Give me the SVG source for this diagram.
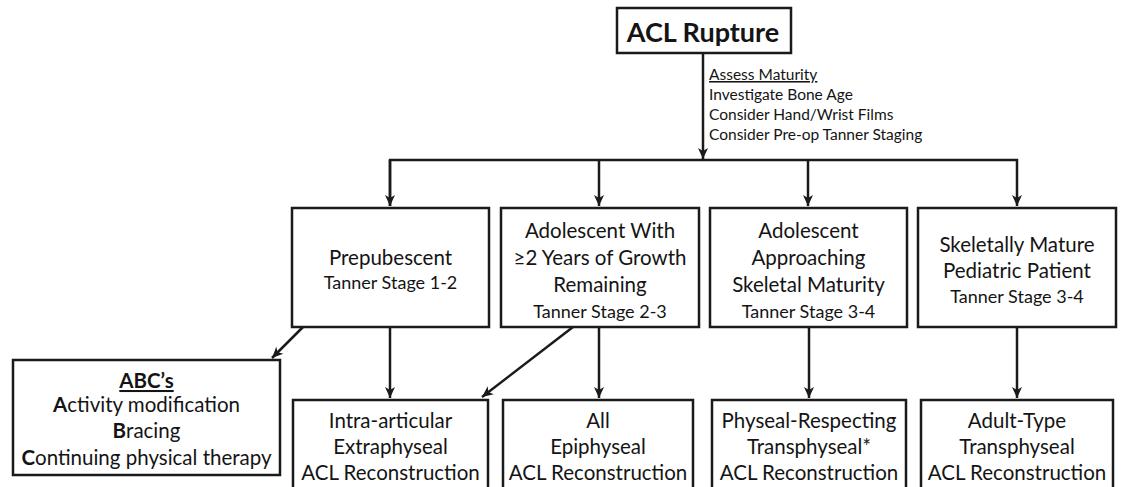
<svg xmlns="http://www.w3.org/2000/svg" width="1124" height="487" viewBox="0 0 1124 487">
<defs>
<style>
.box{fill:#fff;stroke:#1a1a1a;stroke-width:2.5}
.t{font-family:Lato,"Open Sans",sans-serif;fill:#141414;text-anchor:middle;font-size:20.5px}
.s{font-size:18px}
.n{font-family:Lato,"Open Sans",sans-serif;fill:#141414;font-size:15.5px}
.c{fill:none;stroke:#1a1a1a;stroke-width:2.5}
</style>
<marker id="ah" viewBox="0 0 12 12" refX="11" refY="6" markerWidth="12" markerHeight="12" markerUnits="userSpaceOnUse" orient="auto">
<path d="M0,1 L11,6 L0,11 L3,6 Z" fill="#1a1a1a"/>
</marker>
</defs>
<rect width="1124" height="487" fill="#fff"/>
<g id="connectors">
<line class="c" x1="703" y1="53" x2="703" y2="159" marker-end="url(#ah)"/>
<polyline class="c" points="390,206 390,160 1017,160 1017,206" marker-end="url(#ah)"/>
<line class="c" x1="390" y1="160" x2="390" y2="206" marker-end="url(#ah)"/>
<line class="c" x1="599" y1="160" x2="599" y2="206" marker-end="url(#ah)"/>
<line class="c" x1="808" y1="160" x2="808" y2="206" marker-end="url(#ah)"/>
<line class="c" x1="303" y1="327" x2="272" y2="358" marker-end="url(#ah)"/>
<line class="c" x1="390" y1="327" x2="390" y2="398" marker-end="url(#ah)"/>
<line class="c" x1="573" y1="327" x2="482" y2="397" marker-end="url(#ah)"/>
<line class="c" x1="599" y1="327" x2="599" y2="398" marker-end="url(#ah)"/>
<line class="c" x1="809" y1="327" x2="809" y2="398" marker-end="url(#ah)"/>
<line class="c" x1="1017" y1="327" x2="1017" y2="398" marker-end="url(#ah)"/>
</g>
<g id="acl-rupture">
<rect class="box" x="617" y="8" width="174" height="45"/>
<text class="t" x="703" y="42" style="font-size:27px;font-weight:bold">ACL Rupture</text>
</g>
<g id="assess-note">
<text class="n" x="709" y="80" text-decoration="underline">Assess Maturity</text>
<text class="n" x="709" y="100">Investigate Bone Age</text>
<text class="n" x="709" y="120">Consider Hand/Wrist Films</text>
<text class="n" x="709" y="140">Consider Pre-op Tanner Staging</text>
</g>
<g id="prepubescent">
<rect class="box" x="292" y="208" width="197" height="119"/>
<text class="t" x="390.5" y="265">Prepubescent</text>
<text class="t s" x="390.5" y="289">Tanner Stage 1-2</text>
</g>
<g id="adolescent-growth">
<rect class="box" x="501" y="208" width="198" height="119"/>
<text class="t" x="600" y="238">Adolescent With</text>
<text class="t" x="600" y="265">≥2 Years of Growth</text>
<text class="t" x="600" y="292">Remaining</text>
<text class="t s" x="600" y="318">Tanner Stage 2-3</text>
</g>
<g id="adolescent-approaching">
<rect class="box" x="710" y="208" width="197" height="119"/>
<text class="t" x="808.5" y="238">Adolescent</text>
<text class="t" x="808.5" y="265">Approaching</text>
<text class="t" x="808.5" y="292">Skeletal Maturity</text>
<text class="t s" x="808.5" y="318">Tanner Stage 3-4</text>
</g>
<g id="skeletally-mature">
<rect class="box" x="918" y="208" width="198" height="119"/>
<text class="t" x="1017" y="252">Skeletally Mature</text>
<text class="t" x="1017" y="278">Pediatric Patient</text>
<text class="t s" x="1017" y="303">Tanner Stage 3-4</text>
</g>
<g id="abcs">
<rect class="box" x="13" y="360" width="267" height="115"/>
<text class="t" x="146.5" y="388" style="font-weight:bold" text-decoration="underline">ABC’s</text>
<text class="t" x="146.5" y="412"><tspan font-weight="bold">A</tspan>ctivity modification</text>
<text class="t" x="146.5" y="438"><tspan font-weight="bold">B</tspan>racing</text>
<text class="t" x="146.5" y="465"><tspan font-weight="bold">C</tspan>ontinuing physical therapy</text>
</g>
<g id="intra-articular">
<rect class="box" x="293" y="400" width="195" height="100"/>
<text class="t" x="390.5" y="428">Intra-articular</text>
<text class="t" x="390.5" y="454">Extraphyseal</text>
<text class="t" x="390.5" y="480">ACL Reconstruction</text>
</g>
<g id="all-epiphyseal">
<rect class="box" x="503" y="400" width="190" height="100"/>
<text class="t" x="598" y="428">All</text>
<text class="t" x="598" y="454">Epiphyseal</text>
<text class="t" x="598" y="480">ACL Reconstruction</text>
</g>
<g id="physeal-respecting">
<rect class="box" x="712" y="400" width="194" height="100"/>
<text class="t" x="809" y="428">Physeal-Respecting</text>
<text class="t" x="809" y="454">Transphyseal*</text>
<text class="t" x="809" y="480">ACL Reconstruction</text>
</g>
<g id="adult-type">
<rect class="box" x="921" y="400" width="192" height="100"/>
<text class="t" x="1017" y="428">Adult-Type</text>
<text class="t" x="1017" y="454">Transphyseal</text>
<text class="t" x="1017" y="480">ACL Reconstruction</text>
</g>
</svg>
